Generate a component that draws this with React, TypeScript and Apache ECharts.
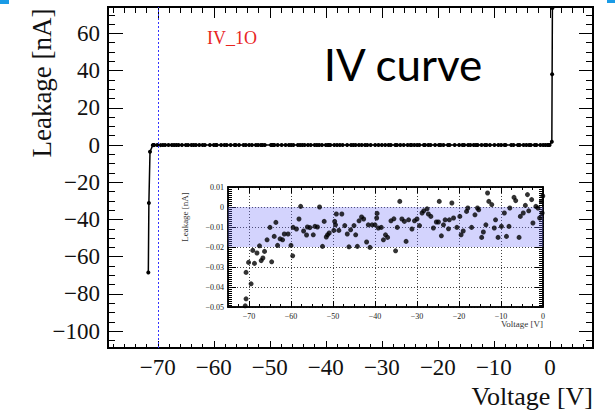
import React, { useEffect, useRef } from 'react';
import * as echarts from 'echarts';

// ---- main plot ticks ----
const mainXTicks = [-70, -60, -50, -40, -30, -20, -10, 0];
const mainXMinor = [-78, -76, -74, -72, -68, -66, -64, -62, -58, -56, -54, -52, -48, -46, -44, -42, -38, -36, -34, -32, -28, -26, -24, -22, -18, -16, -14, -12, -8, -6, -4, -2, 2, 4, 6];
const mainYTicks = [-100, -80, -60, -40, -20, 0, 20, 40, 60];
const mainYMinor = [-105, -95, -90, -85, -75, -70, -65, -55, -50, -45, -35, -30, -25, -15, -10, -5, 5, 10, 15, 25, 30, 35, 45, 50, 55, 65, 70];

// ---- inset ticks ----
const insetXTicks = [-70, -60, -50, -40, -30, -20, -10, 0];
const insetXMinor = [-72.5, -67.5, -65, -62.5, -57.5, -55, -52.5, -47.5, -45, -42.5, -37.5, -35, -32.5, -27.5, -25, -22.5, -17.5, -15, -12.5, -7.5, -5, -2.5];
const insetYTicks = [-0.05, -0.04, -0.03, -0.02, -0.01, 0, 0.01];
const insetYMinor: number[] = [];
for (let k = -49; k <= 9; k++) if (k % 10 !== 0) insetYMinor.push(k / 1000);

// ---- data ----
// breakdown region (main plot)
const breakdownV = [-71.7, -71.6, -71.4];
const breakdownI = [-68.5, -31.2, -3.6];
// low-current region (shown in the inset, and as the flat line of the main plot)
const insetV = [
  -70.9, -70.7, -70.7, -70.1, -69.5, -69.1, -68.7, -68.1, -67.5, -67.1, -66.7, -66.3, -65.7, -65.0, -64.6, -64.0,
  -63.6, -63.2, -62.6, -62.0, -61.6, -60.7, -60.0, -59.6, -59.5, -58.7, -58.1, -57.7, -57.0, -56.3, -56.1, -55.5,
  -54.7, -54.3, -53.7, -53.2, -52.5, -52.1, -51.6, -51.3, -50.9, -49.8, -49.6, -49.4, -49.2, -48.6, -47.9, -47.2,
  -46.6, -46.2, -45.8, -45.0, -44.6, -44.2, -43.8, -43.2, -42.7, -42.0, -41.6, -41.2, -40.7, -40.0, -39.6, -39.5,
  -39.2, -38.5, -38.0, -37.5, -37.0, -36.2, -35.5, -35.1, -34.7, -34.1, -33.6, -33.0, -32.6, -32.0, -31.2, -30.6,
  -30.0, -29.4, -28.8, -28.4, -27.6, -27.3, -26.7, -26.1, -25.4, -24.9, -24.7, -24.2, -23.7, -23.3, -22.5, -22.3,
  -21.7, -21.3, -20.5, -19.8, -19.5, -19.0, -18.2, -17.9, -17.0, -16.2, -15.6, -15.3, -14.6, -14.2, -13.6, -13.2,
  -12.9, -12.2, -11.6, -11.3, -10.7, -9.9, -9.2, -8.7, -8.1, -7.9, -6.9, -6.5, -5.7, -5.4, -4.7, -4.2,
  -3.7, -3.4, -2.7, -2.4, -1.7, -1.2, -0.8, -0.4, -0.2, -0.05,
];
const insetI = [
  -0.0494, -0.0459, -0.0327, -0.0277, -0.0384, -0.0217, -0.0282, -0.023, -0.0194, -0.0268, -0.0255, -0.0222, -0.0164, -0.0102, -0.0274, -0.0147,
  -0.0077, -0.0192, -0.0159, -0.0164, -0.0135, -0.0135, -0.0192, -0.0244, -0.0102, -0.011, -0.006, 0.0003, -0.012, -0.014, -0.010, -0.0103,
  -0.0139, -0.0097, -0.010, 0.0, -0.0197, -0.0072, -0.015, -0.0139, -0.013, -0.0117, -0.0072, -0.0089, -0.0035, -0.0117, -0.0035, -0.0093,
  -0.0135, -0.0199, -0.0114, -0.0093, -0.0139, -0.0197, -0.0069, -0.005, -0.006, -0.0175, -0.0089, -0.0202, -0.0089, -0.0089, -0.0055, -0.0032,
  -0.0105, -0.0102, -0.0164, -0.0139, -0.0152, -0.0069, -0.0059, -0.0219, -0.0102, 0.0028, -0.006, -0.0072, -0.0172, -0.0064, -0.011, -0.0069,
  -0.006, -0.0093, -0.003, -0.0019, -0.0009, -0.0035, -0.0047, -0.0105, -0.0075, -0.0075, 0.0028, -0.0144, -0.0089, -0.0064, -0.0109, -0.0064,
  0.002, -0.0055, -0.0102, -0.0047, -0.0139, -0.012, -0.0022, -0.0005, -0.0102, -0.0039, -0.0005, -0.0014, -0.0152, -0.0125, -0.0089, 0.007,
  0.0028, 0.0012, -0.0105, -0.0064, -0.0152, -0.0097, -0.003, -0.0147, -0.0097, -0.0005, 0.0048, 0.0032, -0.0152, -0.0047, -0.003, 0.0008,
  0.0062, -0.0019, 0.0037, -0.008, 0.0003, -0.0005, -0.0055, 0.0028, -0.003, 0.0055,
];
// forward region
const forwardV = [0.35, 0.4, 0.45];
const forwardI = [1.8, 38, 73.7];

const MAIN_X = [-78.9, 7.7];
const MAIN_Y = [-109.1, 74.2];
const INSET_X = [-75, 0];
const INSET_Y = [-0.05, 0.01];
const CUT_V = -70;

const SERIF = '"Liberation Serif", "Times New Roman", serif';
const minus = (v: number) => String(v).replace('-', '\u2212');
const insetYFmt = (v: number) => (Math.abs(v) < 1e-9 ? '0' : v.toFixed(2).replace('-', '\u2212'));

function ax(
  grid: number,
  position: string,
  range: number[],
  values: number[],
  len: number,
  lineW: number,
  label: any,
  split = false,
) {
  return {
    type: 'value',
    gridIndex: grid,
    position,
    min: range[0],
    max: range[1],
    axisLine: { show: true, onZero: false, lineStyle: { color: '#000', width: lineW } },
    axisTick: { show: true, inside: true, length: len, customValues: values, lineStyle: { color: '#000', width: 1 } },
    axisLabel: label ? { customValues: values, ...label } : { show: false },
    splitLine: split
      ? { show: true, lineStyle: { color: '#111', type: [1, 2], width: 0.8 } }
      : { show: false },
  };
}

export default function App() {
  const ref = useRef<HTMLDivElement>(null);
  useEffect(() => {
    if (!ref.current) return;
    const chart = echarts.init(ref.current, undefined, { renderer: 'svg' });

    const mainData: number[][] = [];
    breakdownV.forEach((v, i) => mainData.push([v, breakdownI[i]]));
    insetV.forEach((v, i) => mainData.push([v, insetI[i]]));
    forwardV.forEach((v, i) => mainData.push([v, forwardI[i]]));
    const insetData = insetV.map((v, i) => [v, insetI[i]]);

    const mainXLabel = { margin: 8, fontFamily: SERIF, fontSize: 23, color: '#111', formatter: minus };
    const mainYLabel = { margin: 8, fontFamily: SERIF, fontSize: 23, color: '#111', formatter: minus };
    const insetXLabel = { margin: 5, fontFamily: SERIF, fontSize: 8, color: '#222', formatter: minus };
    const insetYLabel = { margin: 4, fontFamily: SERIF, fontSize: 8, color: '#222', formatter: insetYFmt };

    chart.setOption({
      animation: false,
      backgroundColor: '#fff',
      grid: [
        { left: 108, top: 7, width: 485, height: 341 },
        { left: 228, top: 187, width: 315, height: 120 },
      ],
      xAxis: [
        ax(0, 'bottom', MAIN_X, mainXTicks, 7, 2, mainXLabel),
        ax(0, 'bottom', MAIN_X, mainXMinor, 4, 2, null),
        ax(0, 'top', MAIN_X, mainXTicks, 11, 2, null),
        ax(0, 'top', MAIN_X, mainXMinor, 6, 2, null),
        ax(1, 'bottom', INSET_X, insetXTicks, 6, 1.5, insetXLabel, true),
        ax(1, 'bottom', INSET_X, insetXMinor, 3, 1.5, null),
        ax(1, 'top', INSET_X, insetXTicks, 6, 1.5, null),
        ax(1, 'top', INSET_X, insetXMinor, 3, 1.5, null),
      ],
      yAxis: [
        ax(0, 'left', MAIN_Y, mainYTicks, 15, 2, mainYLabel),
        ax(0, 'left', MAIN_Y, mainYMinor, 7, 2, null),
        ax(0, 'right', MAIN_Y, mainYTicks, 14, 2, null),
        ax(0, 'right', MAIN_Y, mainYMinor, 7, 2, null),
        ax(1, 'left', INSET_Y, insetYTicks, 8, 1.5, insetYLabel, true),
        ax(1, 'left', INSET_Y, insetYMinor, 4, 1.5, null),
        ax(1, 'right', INSET_Y, insetYTicks, 8, 1.5, null),
        ax(1, 'right', INSET_Y, insetYMinor, 4, 1.5, null),
      ],
      series: [
        {
          type: 'line',
          xAxisIndex: 0,
          yAxisIndex: 0,
          data: mainData,
          symbol: 'circle',
          symbolSize: 4,
          showSymbol: true,
          lineStyle: { color: '#000', width: 1.5 },
          itemStyle: { color: '#000' },
          markLine: {
            silent: true,
            symbol: 'none',
            label: { show: false },
            lineStyle: { color: '#3333ff', type: [2, 2], width: 1 },
            data: [{ xAxis: CUT_V }],
          },
        },
        {
          type: 'scatter',
          xAxisIndex: 4,
          yAxisIndex: 4,
          data: insetData,
          symbol: 'circle',
          symbolSize: 5,
          itemStyle: { color: '#000' },
          markArea: {
            silent: true,
            itemStyle: { color: 'rgba(110,110,250,0.3)' },
            data: [[{ yAxis: 0 }, { yAxis: -0.02 }]],
          },
        },
      ],
      graphic: [
        { type: 'rect', shape: { x: 0, y: 0, width: 9, height: 4 }, style: { fill: '#1a9be6' } },
        { type: 'rect', shape: { x: 607, y: 0, width: 8, height: 3 }, style: { fill: '#1a9be6' } },
        {
          type: 'text', x: 42, y: 83, rotation: Math.PI / 2,
          style: { text: 'Leakage [nA]', font: `27px ${SERIF}`, fill: '#111', align: 'center', verticalAlign: 'middle' },
        },
        {
          type: 'text', x: 593, y: 396,
          style: { text: 'Voltage [V]', font: `26px ${SERIF}`, fill: '#111', align: 'right', verticalAlign: 'middle' },
        },
        {
          type: 'text', x: 185, y: 217, rotation: Math.PI / 2,
          style: { text: 'Leakage [nA]', font: `9px ${SERIF}`, fill: '#333', align: 'center', verticalAlign: 'middle' },
        },
        {
          type: 'text', x: 543, y: 324,
          style: { text: 'Voltage [V]', font: `9px ${SERIF}`, fill: '#333', align: 'right', verticalAlign: 'middle' },
        },
        {
          type: 'text', x: 207, y: 38,
          style: { text: 'IV_1O', font: `18px ${SERIF}`, fill: '#e8251f', align: 'left', verticalAlign: 'middle' },
        },
        {
          type: 'text', x: 403, y: 64,
          style: { text: 'IV curve', font: '44px Lato, "Open Sans", sans-serif', fill: '#000', align: 'center', verticalAlign: 'middle' },
        },
      ],
    });
    return () => chart.dispose();
  }, []);
  return <div ref={ref} style={{ position: 'fixed', left: 0, top: 0, width: 615, height: 411 }} />;
}
